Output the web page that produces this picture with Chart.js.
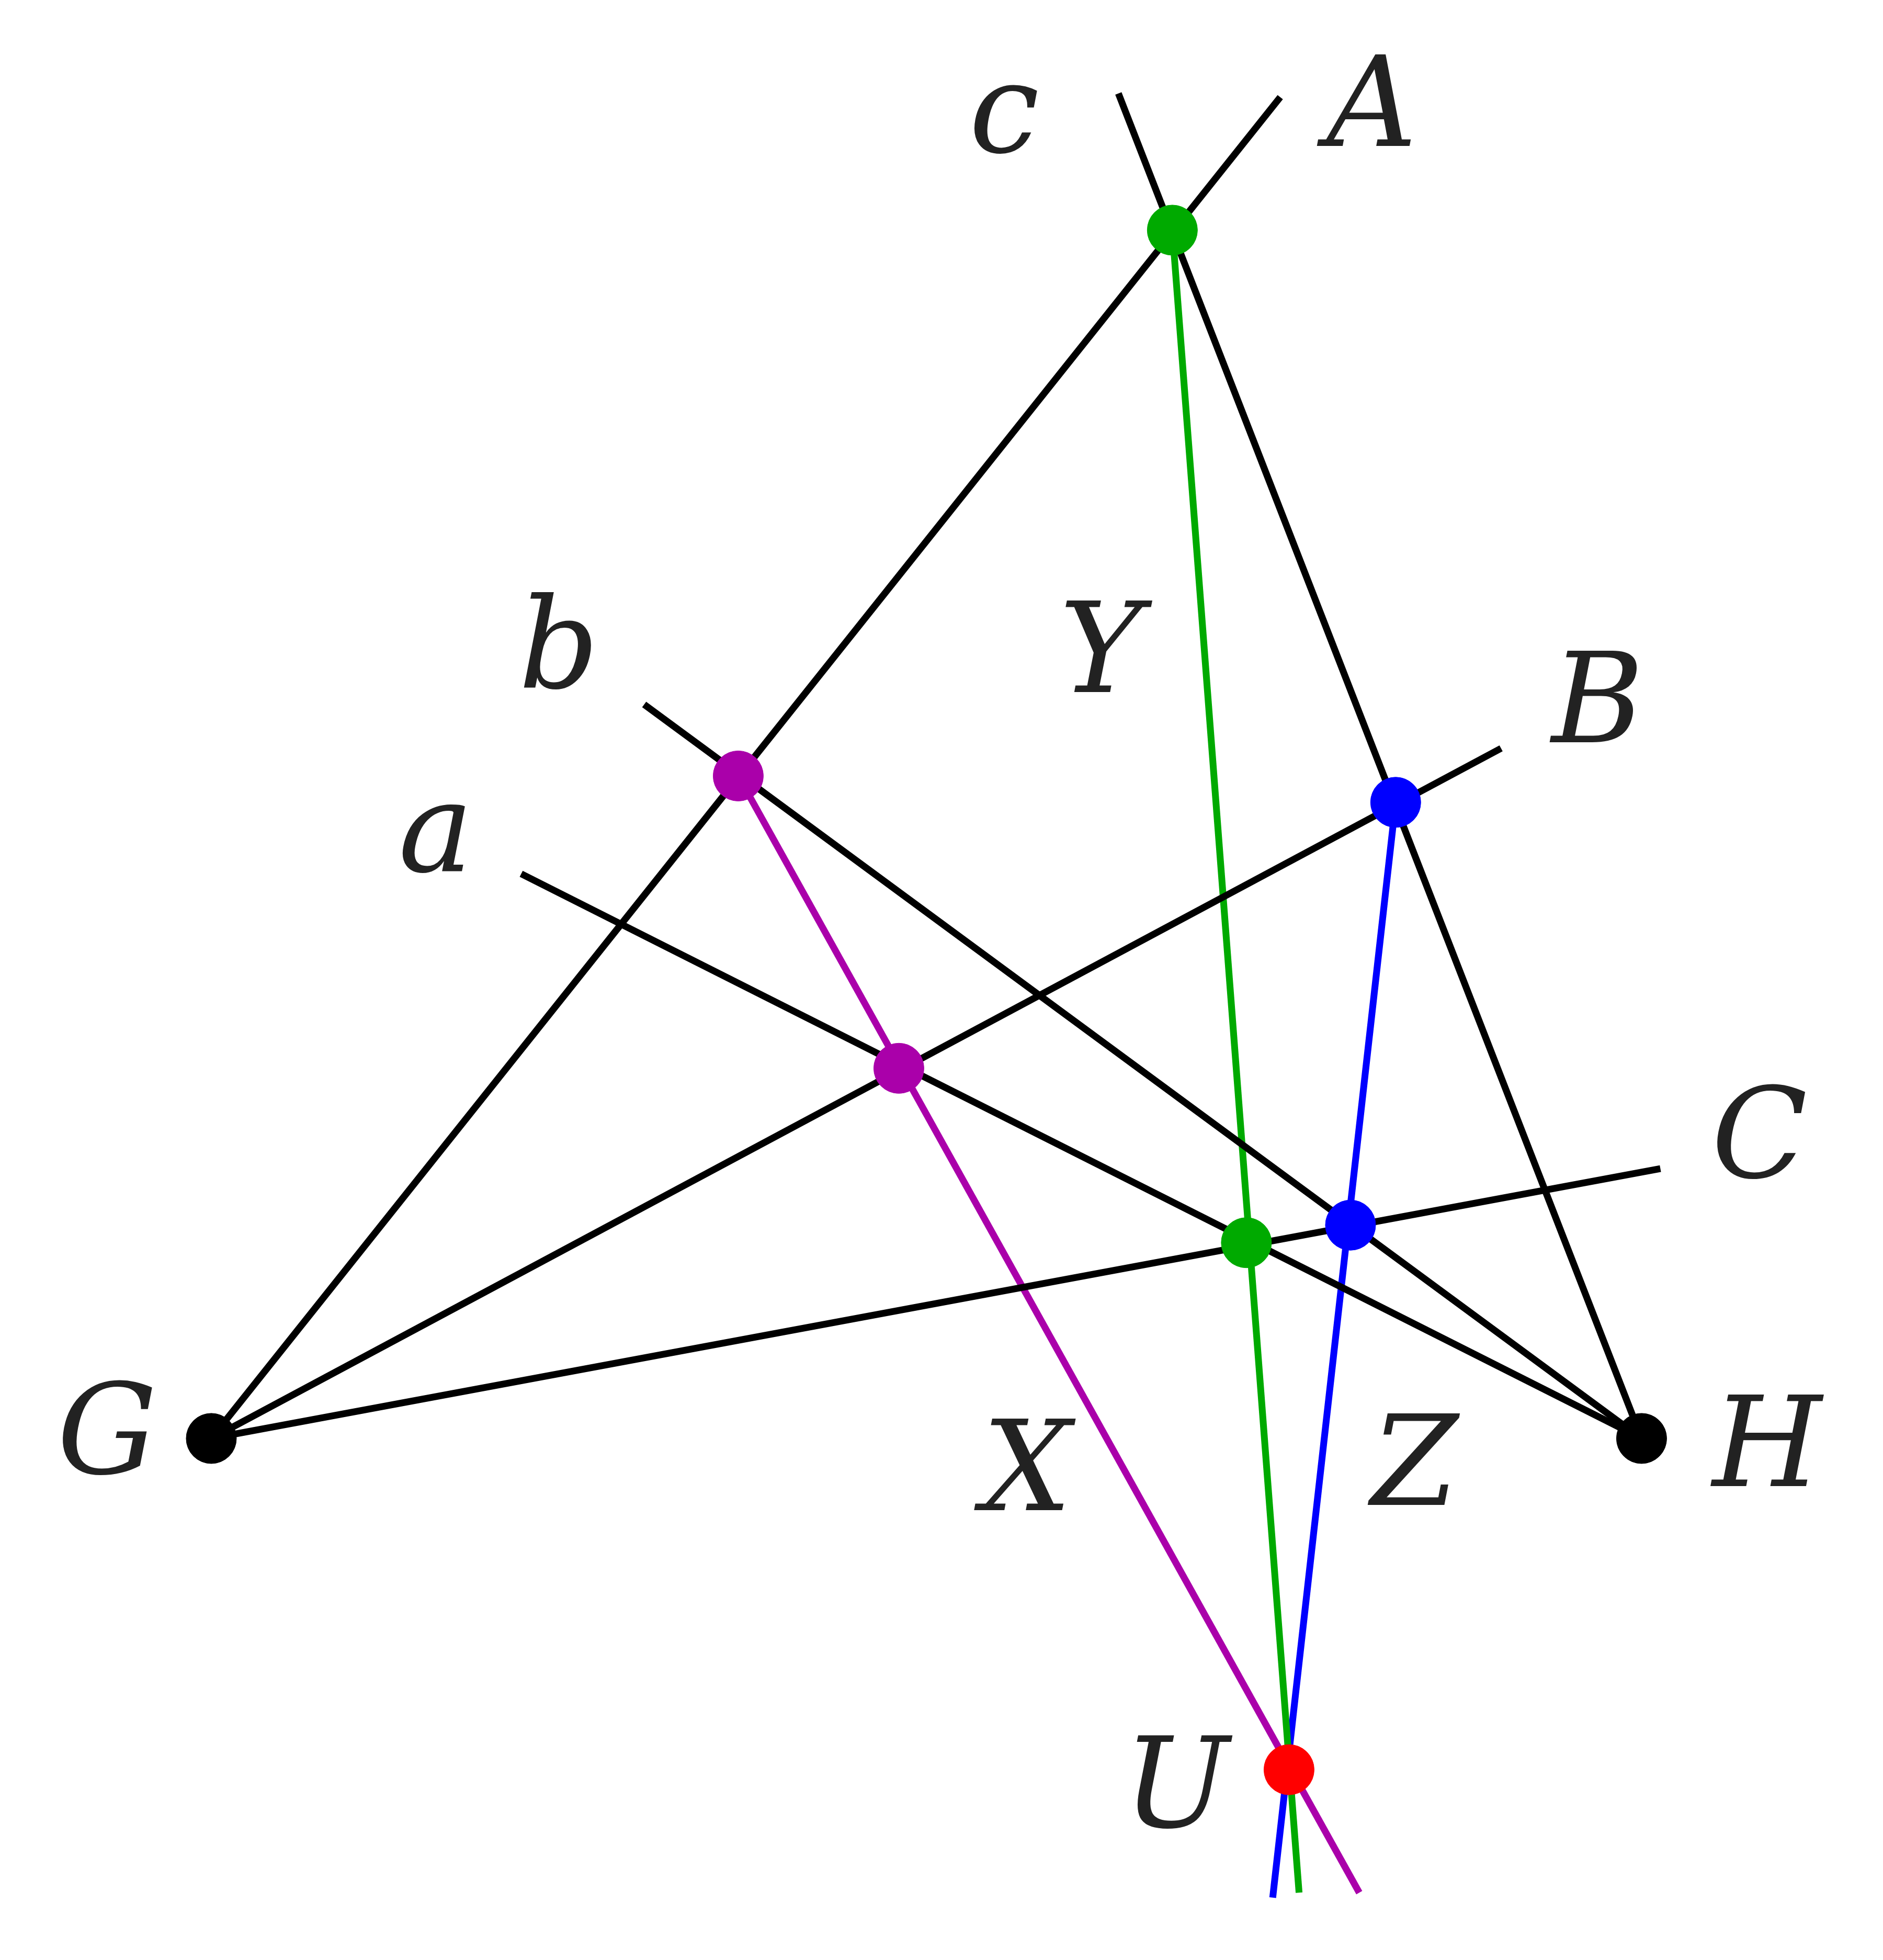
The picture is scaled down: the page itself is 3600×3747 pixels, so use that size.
<!DOCTYPE html>
<html>
<head>
<meta charset="utf-8">
<script src="https://cdn.jsdelivr.net/npm/chart.js@4/dist/chart.umd.min.js"></script>
<style>
  html, body { margin: 0; padding: 0; background: #fff; }
  #wrap { width: 3600px; height: 3747px; }
</style>
</head>
<body>
<div id="wrap"><canvas id="fig"></canvas></div>
<script>
// segments: [x1, y1, x2, y2] in figure units
const blackSegments = [
  [168, 1146, 1020, 77],   // G-A
  [891, 74, 1308, 1146],   // c
  [513, 561, 1308, 1146],  // b
  [415, 696, 1308, 1146],  // a
  [168, 1146, 1196, 596],  // G-B
  [168, 1146, 1323, 931]   // G-C
];
const greenSegment = [934, 183, 1035, 1508];
const blueSegment = [1112, 639, 1014, 1512];
const magentaSegment = [588, 618, 1083, 1508];

const blackPoints = [[168, 1146], [1308, 1146]];
const greenPoints = [[934, 183], [993, 990]];
const bluePoints = [[1112, 639], [1076, 976]];
const magentaPoints = [[588, 618], [716, 851]];
const redPoints = [[1027, 1410]];

const labelNames = ["c", "A", "b", "Y", "B", "a", "C", "G", "X", "Z", "H", "U"];
const labelX = [800, 1093, 445, 877, 1273, 347, 1402, 85, 818, 1127, 1408, 937];
const labelY = [95, 90, 522, 525, 565, 668, 912, 1148, 1177, 1173, 1158, 1430];

const toPts = arr => arr.map(p => ({ x: p[0], y: p[1] }));
const seg = (s, color) => ({
  type: "line",
  data: [{ x: s[0], y: s[1] }, { x: s[2], y: s[3] }],
  borderColor: color, borderWidth: 13, pointRadius: 0, showLine: true, order: 2
});
const dots = (arr, color) => ({
  type: "scatter",
  data: toPts(arr),
  backgroundColor: color, borderColor: color, pointRadius: 48, pointHoverRadius: 48, order: 0
});

const labelPlugin = {
  id: "labels",
  afterDatasetsDraw(chart) {
    const { ctx, scales: { x, y } } = chart;
    ctx.save();
    ctx.fillStyle = "#222";
    ctx.font = "italic 240px 'DejaVu Serif'";
    ctx.textAlign = "center";
    ctx.textBaseline = "middle";
    labelNames.forEach((t, i) => {
      ctx.fillText(t, x.getPixelForValue(labelX[i]), y.getPixelForValue(labelY[i]));
    });
    ctx.restore();
  }
};

new Chart(document.getElementById("fig"), {
  data: {
    datasets: [
      ...blackSegments.map(s => seg(s, "#000")),
      seg(greenSegment, "#00aa00"),
      seg(blueSegment, "#0000ff"),
      seg(magentaSegment, "#aa00aa"),
      dots(blackPoints, "#000"),
      dots(greenPoints, "#00aa00"),
      dots(bluePoints, "#0000ff"),
      dots(magentaPoints, "#aa00aa"),
      dots(redPoints, "#ff0000")
    ]
  },
  options: {
    responsive: true,
    maintainAspectRatio: false,
    animation: false,
    layout: { padding: 0 },
    plugins: { legend: { display: false }, tooltip: { enabled: false } },
    scales: {
      // chart area is inset by the point radius (48px = 20 units)
      x: { type: "linear", min: 20, max: 1480, display: false },
      y: { type: "linear", min: 20, max: 1541.25, reverse: true, display: false }
    }
  },
  plugins: [labelPlugin]
});
</script>
</body>
</html>
